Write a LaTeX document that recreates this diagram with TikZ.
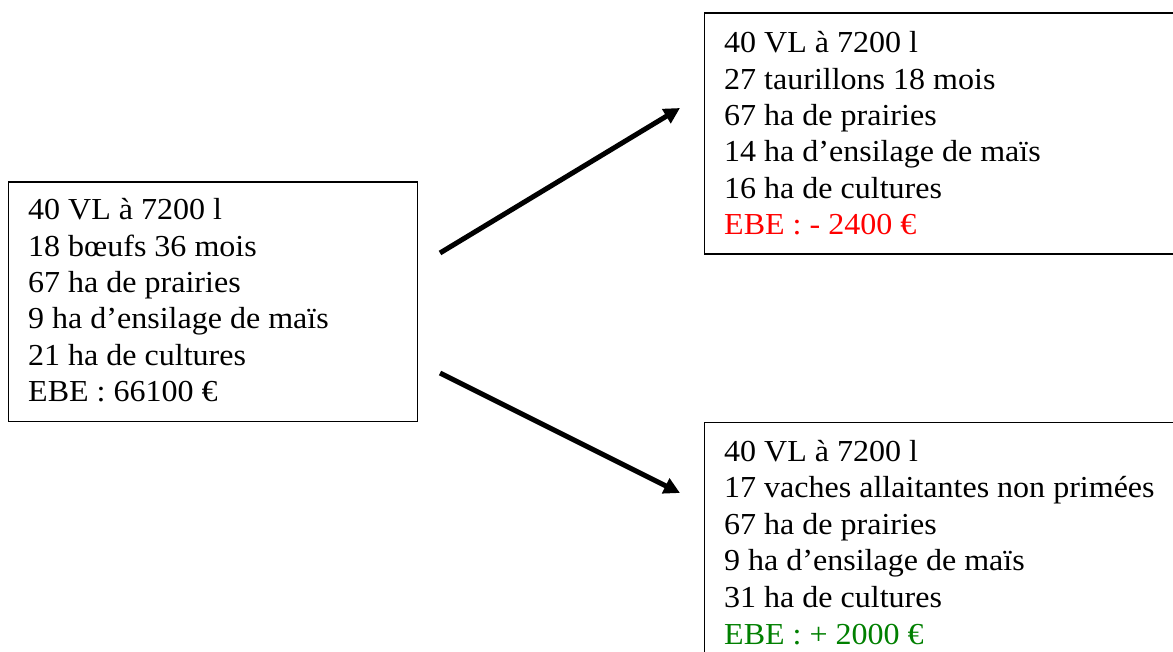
\documentclass[tikz,border=0pt]{standalone}
\usepackage{fontspec}
\setmainfont{Liberation Serif}[FakeStretch=1.05]
\usetikzlibrary{arrows.meta}
\definecolor{ebered}{RGB}{255,0,0}
\definecolor{ebegreen}{RGB}{0,128,0}
\tikzset{
  box/.style={draw=black, line width=1.5pt, anchor=north west, inner sep=0pt},
  txt/.style={anchor=base west, inner sep=0pt, font=\fontsize{30.5}{36}\selectfont},
  arr/.style={line width=5pt, -{Triangle[length=16pt,width=16pt]}}
}
\begin{document}
\begin{tikzpicture}[x=1pt,y=-1pt]
\useasboundingbox (0,0) rectangle (1173,652);
\fill[white] (0,0) rectangle (1173,652);
% boxes
\node[box, minimum width=409pt, minimum height=239pt] (L) at (7.5,181.5) {};
\node[box, minimum width=480pt, minimum height=241pt] (TR) at (703.5,12.5) {};
\node[box, minimum width=480pt, minimum height=250pt] (BR) at (703.5,421.5) {};
% left text
\node[txt] (l1) at (28,220) {40 VL à 7200 l};
\node[txt] (l2) at (28,256.3) {18 bœufs 36 mois};
\node[txt] (l3) at (28,292.6) {67 ha de prairies};
\node[txt] (l4) at (28,328.9) {9 ha d’ensilage de maïs};
\node[txt] (l5) at (28,365.2) {21 ha de cultures};
\node[txt] (l6) at (28,401.5) {EBE : 66100 €};
% top right text
\node[txt] (t1) at (724,53) {40 VL à 7200 l};
\node[txt] (t2) at (724,89.3) {27 taurillons 18 mois};
\node[txt] (t3) at (724,125.6) {67 ha de prairies};
\node[txt] (t4) at (724,161.9) {14 ha d’ensilage de maïs};
\node[txt] (t5) at (724,198.2) {16 ha de cultures};
\node[txt, text=ebered] (t6) at (724,234.5) {EBE : - 2400 €};
% bottom right text
\node[txt] (b1) at (724,461) {40 VL à 7200 l};
\node[txt] (b2) at (724,497.6) {17 vaches allaitantes non primées};
\node[txt] (b3) at (724,534.2) {67 ha de prairies};
\node[txt] (b4) at (724,570.8) {9 ha d’ensilage de maïs};
\node[txt] (b5) at (724,607.4) {31 ha de cultures};
\node[txt, text=ebegreen] (b6) at (724,644) {EBE : + 2000 €};
% arrows
\coordinate (u0) at (440,253);
\coordinate (u1) at (680,108);
\coordinate (d0) at (440,373);
\coordinate (d1) at (680,493);
\draw[arr] (u0) -- (u1);
\draw[arr] (d0) -- (d1);
\end{tikzpicture}
\end{document}
